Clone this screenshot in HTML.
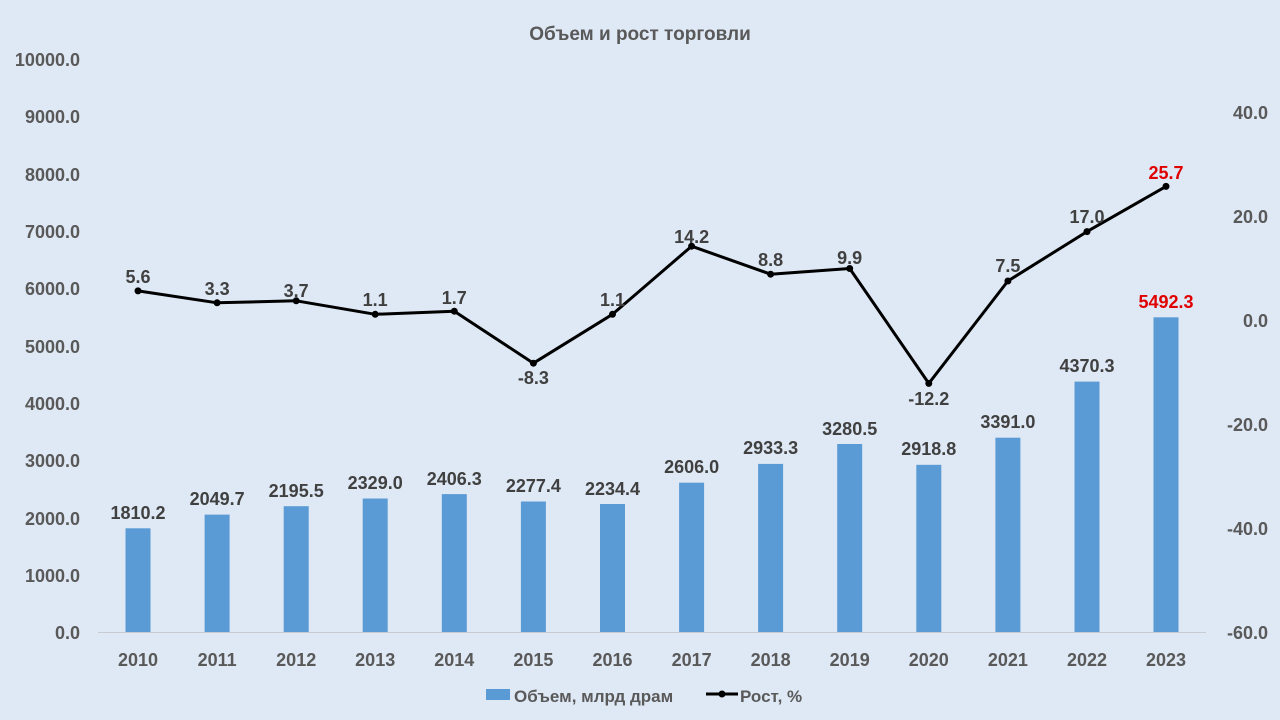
<!DOCTYPE html>
<html><head><meta charset="utf-8"><style>
html,body{margin:0;padding:0;background:#dfe9f5;}
svg{display:block;font-family:"Liberation Sans Narrow","Liberation Sans",sans-serif;}
</style></head><body>
<svg width="1280" height="720" viewBox="0 0 1280 720" xmlns="http://www.w3.org/2000/svg">
<rect x="0" y="0" width="1280" height="720" fill="#dfe9f5"/>
<text x="640" y="40" text-anchor="middle" font-size="19" font-weight="bold" fill="#595959">Объем и рост торговли</text>
<g font-size="18" font-weight="bold" fill="#595959" text-anchor="end">
<text x="80" y="639">0.0</text><text x="80" y="582">1000.0</text><text x="80" y="525">2000.0</text>
<text x="80" y="467">3000.0</text><text x="80" y="410">4000.0</text><text x="80" y="353">5000.0</text>
<text x="80" y="295">6000.0</text><text x="80" y="238">7000.0</text><text x="80" y="181">8000.0</text>
<text x="80" y="123">9000.0</text><text x="80" y="66">10000.0</text>
</g>
<g font-size="18" font-weight="bold" fill="#595959" text-anchor="end">
<text x="1268" y="119">40.0</text><text x="1268" y="223">20.0</text><text x="1268" y="327">0.0</text>
<text x="1268" y="431">-20.0</text><text x="1268" y="535">-40.0</text><text x="1268" y="639">-60.0</text>
</g>
<line x1="98" y1="632.5" x2="1206" y2="632.5" stroke="#c8ccd2" stroke-width="1"/>
<g fill="#5b9bd5">
<rect x="125.5" y="528.3" width="25" height="103.7"/>
<rect x="204.6" y="514.6" width="25" height="117.4"/>
<rect x="283.7" y="506.2" width="25" height="125.8"/>
<rect x="362.7" y="498.5" width="25" height="133.5"/>
<rect x="441.8" y="494.1" width="25" height="137.9"/>
<rect x="520.9" y="501.5" width="25" height="130.5"/>
<rect x="600" y="504" width="25" height="128"/>
<rect x="679.1" y="482.7" width="25" height="149.3"/>
<rect x="758.1" y="463.9" width="25" height="168.1"/>
<rect x="837.2" y="444" width="25" height="188"/>
<rect x="916.3" y="464.8" width="25" height="167.2"/>
<rect x="995.4" y="437.7" width="25" height="194.3"/>
<rect x="1074.5" y="381.6" width="25" height="250.4"/>
<rect x="1153.5" y="317.3" width="25" height="314.7"/>
</g>
<g font-size="18" font-weight="bold" fill="#404040" text-anchor="middle">
<text x="138" y="519">1810.2</text><text x="217.1" y="505">2049.7</text><text x="296.2" y="497">2195.5</text>
<text x="375.2" y="489">2329.0</text><text x="454.3" y="485">2406.3</text><text x="533.4" y="492">2277.4</text>
<text x="612.5" y="495">2234.4</text><text x="691.6" y="473">2606.0</text><text x="770.6" y="454">2933.3</text>
<text x="849.7" y="435">3280.5</text><text x="928.8" y="455">2918.8</text><text x="1007.9" y="428">3391.0</text>
<text x="1087" y="372">4370.3</text><text x="1166" y="308" fill="#e00000">5492.3</text>
</g>
<polyline fill="none" stroke="#000" stroke-width="3" stroke-linejoin="round" points="138,290.9 217.1,302.8 296.2,300.8 375.2,314.3 454.3,311.2 533.4,363.2 612.5,314.3 691.6,246.2 770.6,274.2 849.7,268.5 928.8,383.4 1007.9,281 1087,231.6 1166,186.4"/>
<g fill="#000">
<circle cx="138" cy="290.9" r="3.5"/><circle cx="217.1" cy="302.8" r="3.5"/><circle cx="296.2" cy="300.8" r="3.5"/>
<circle cx="375.2" cy="314.3" r="3.5"/><circle cx="454.3" cy="311.2" r="3.5"/><circle cx="533.4" cy="363.2" r="3.5"/>
<circle cx="612.5" cy="314.3" r="3.5"/><circle cx="691.6" cy="246.2" r="3.5"/><circle cx="770.6" cy="274.2" r="3.5"/>
<circle cx="849.7" cy="268.5" r="3.5"/><circle cx="928.8" cy="383.4" r="3.5"/><circle cx="1007.9" cy="281" r="3.5"/>
<circle cx="1087" cy="231.6" r="3.5"/><circle cx="1166" cy="186.4" r="3.5"/>
</g>
<g font-size="18" font-weight="bold" fill="#404040" text-anchor="middle">
<text x="138" y="283">5.6</text><text x="217.1" y="295">3.3</text><text x="296.2" y="297">3.7</text>
<text x="375.2" y="306">1.1</text><text x="454.3" y="304">1.7</text><text x="533.4" y="384">-8.3</text>
<text x="612.5" y="306">1.1</text><text x="691.6" y="243">14.2</text><text x="770.6" y="266">8.8</text>
<text x="849.7" y="264">9.9</text><text x="928.8" y="405">-12.2</text><text x="1007.9" y="272">7.5</text>
<text x="1087" y="223">17.0</text><text x="1166" y="179" fill="#e00000">25.7</text>
</g>
<g font-size="18" font-weight="bold" fill="#595959" text-anchor="middle">
<text x="138" y="666">2010</text><text x="217.1" y="666">2011</text><text x="296.2" y="666">2012</text>
<text x="375.2" y="666">2013</text><text x="454.3" y="666">2014</text><text x="533.4" y="666">2015</text>
<text x="612.5" y="666">2016</text><text x="691.6" y="666">2017</text><text x="770.6" y="666">2018</text>
<text x="849.7" y="666">2019</text><text x="928.8" y="666">2020</text><text x="1007.9" y="666">2021</text>
<text x="1087" y="666">2022</text><text x="1166" y="666">2023</text>
</g>
<rect x="486" y="689" width="24" height="11" fill="#5b9bd5"/>
<text x="514" y="702" font-size="17" font-weight="bold" fill="#595959">Объем, млрд драм</text>
<line x1="706" y1="694" x2="738" y2="694" stroke="#000" stroke-width="3"/>
<circle cx="722" cy="694" r="3.5" fill="#000"/>
<text x="740" y="702" font-size="17" font-weight="bold" fill="#595959">Рост, %</text>
</svg>
</body></html>
